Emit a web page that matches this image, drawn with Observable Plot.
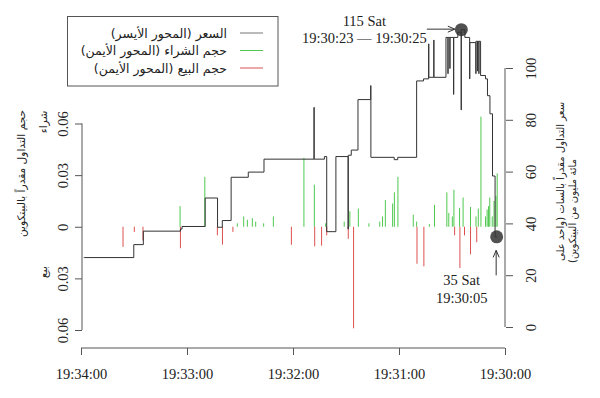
<!DOCTYPE html>
<html><head><meta charset="utf-8">
<script src="https://cdn.jsdelivr.net/npm/d3@7"></script>
<script src="https://cdn.jsdelivr.net/npm/@observablehq/plot@0.6"></script>
<style>
body{margin:0;background:#fff;}
#chart svg{display:block;}
</style></head><body><div id="chart"></div>
<script>
// ---- data (seconds after 19:30:00) ----
const priceSec = [5.1, 5.9, 7.35, 8.8, 10.2, 11.3, 14.1, 15.0, 15.1, 15.8, 15.9, 16.7, 16.8, 20.2, 20.3, 23.0, 25.0, 25.1, 27.0, 29.3, 29.4, 31.4, 31.5, 32.5, 32.6, 33.7, 40.5, 40.6, 43.4, 43.5, 46.4, 50.3, 61.0, 63.0, 76.2, 76.3, 83.5, 87.3, 89.0, 89.1, 96.0, 101.2, 102.5, 108.3, 108.4, 136.7, 145.6, 155.3, 160.3, 163.0, 170.0, 183.1, 184.0, 205.0, 210.4, 238.5];
const priceSat = [35, 58.5, 82.5, 89.5, 96, 97.3, 110.5, 98, 110.5, 99, 110.5, 98, 110, 96, 112, 115, 84, 114, 112, 90, 112, 100, 112, 98, 112, 96.6, 111, 96.6, 109.5, 96, 95.2, 65.7, 64.8, 65.7, 93.4, 88, 68.5, 66.5, 38, 66, 37, 66, 65, 85, 65, 60, 58, 41.3, 38.7, 50, 39, 38, 37.2, 32, 27, 27];

const buySec = [4.7, 5.4, 6.5, 7.5, 8.9, 9.6, 10.4, 11.3, 13.9, 15.4, 16.7, 19.8, 24.0, 26.0, 29.2, 30.1, 32.1, 33.2, 40.2, 43.1, 50.3, 52.2, 60.9, 62.9, 63.9, 68.0, 69.6, 71.2, 77.3, 83.3, 88.1, 91.3, 101.8, 108.2, 114.1, 131.4, 136.9, 141.4, 143.3, 146.1, 148.2, 151.8, 170.2, 184.2];
const buyBTC = [0.031, 0.018, 0.015, 0.006, 0.017, 0.012, 0.010, 0.006, 0.064, 0.0106, 0.006, 0.0115, 0.017, 0.011, 0.0215, 0.006, 0.008, 0.020, 0.0127, 0.0015, 0.003, 0.007, 0.029, 0.020, 0.0135, 0.0155, 0.006, 0.003, 0.002, 0.0106, 0.009, 0.003, 0.002, 0.0245, 0.040, 0.006, 0.002, 0.003, 0.005, 0.004, 0.006, 0.002, 0.029, 0.012];

const sellSec = [16.3, 19.8, 23.2, 25.8, 28.8, 46.2, 50.1, 86.0, 89.0, 101.2, 104.1, 108.0, 121.2, 154.3, 160.2, 163.1, 184.0, 205.2, 210.1, 216.5];
const sellBTC = [0.009, 0.016, 0.005, 0.024, 0.005, 0.023, 0.0215, 0.059, 0.007, 0.005, 0.011, 0.0114, 0.0105, 0.003, 0.0104, 0.005, 0.0125, 0.008, 0.003, 0.0117];

const xTickSec = [240, 180, 120, 60, 0];
const volTicks = [-0.06, -0.03, 0, 0.03, 0.06];
const priceTicks = [0, 20, 40, 60, 80, 100];

const markSec = [25, 5];
const markSat = [115, 35];
const markLabel1 = ["115 Sat", "35 Sat"];
const markLabel2 = ["19:30:23 — 19:30:25", "19:30:05"];

const legendLabels = ["السعر (المحور الأيسر)", "حجم الشراء (المحور الأيمن)", "حجم البيع (المحور الأيمن)"];
const leftTitle = "حجم التداول مقدراً بالبيتكوين";
const buyWord = "شراء";
const sellWord = "بيع";
const rightTitle = ["سعر التداول مقدراً بالسات (واحد على", "مائة مليون من البيتكوين)"];

// ---- styling / layout ----
const GREEN = "#4fc94f", RED = "#dd5050", LINE = "#333", AX = "#555", TXT = "#222";
const SERIF = "'Liberation Serif', serif";
const ARAB = "'DejaVu Sans', sans-serif";
const BASE = Date.UTC(2020, 0, 1, 19, 30, 0);
const T = s => new Date(BASE + s * 1000);

const volRange = [330, 123.5];
const volPx = d3.scaleLinear([-0.06, 0.06], volRange);
const pricePx = d3.scaleLinear([0, 100], [327, 68]);
const pv = p => volPx.invert(pricePx(p));       // price -> y-scale value
const priceOf = v => pricePx.invert(volPx(v));

const prices = priceSec.map((s, i) => ({t: T(s), p: priceSat[i]}));
const buys = buySec.map((s, i) => ({t: T(s), v: buyBTC[i]}));
const sells = sellSec.map((s, i) => ({t: T(s), v: sellBTC[i]}));
const marks = markSec.map((s, i) => ({t: T(s), p: markSat[i], l1: markLabel1[i], l2: markLabel2[i]}));

function deco(index, scales, values, dims) {
  const X = scales.x, Y = scales.y;
  const g = d3.create("svg:g");
  const ln = (x1, y1, x2, y2, c = AX, w = 1) => g.append("line").attr("x1", x1).attr("y1", y1).attr("x2", x2).attr("y2", y2).attr("stroke", c).attr("stroke-width", w);
  // axis lines
  const yb = dims.height - dims.marginBottom;
  ln(X(T(xTickSec[0])), yb, X(T(xTickSec[xTickSec.length - 1])), yb);
  const xl = dims.marginLeft, xr = dims.width - dims.marginRight;
  ln(xl, Y(volTicks[0]), xl, Y(volTicks[volTicks.length - 1]));
  ln(xr, Y(pv(priceTicks[0])), xr, Y(pv(priceTicks[priceTicks.length - 1])));
  // arrows
  const ax = X(marks[0].t), ay = Y(pv(marks[0].p));
  ln(ax - 34, ay, ax - 6, ay, "#333");
  ln(ax - 6, ay, ax - 13, ay - 3, "#333"); ln(ax - 6, ay, ax - 13, ay + 3, "#333");
  const bx = X(marks[1].t), by = Y(pv(marks[1].p));
  ln(bx, by + 39, bx, by + 14, "#333");
  ln(bx, by + 14, bx - 3, by + 21, "#333"); ln(bx, by + 14, bx + 3, by + 21, "#333");
  // legend
  g.append("rect").attr("x", 67.5).attr("y", 16.5).attr("width", 210.5).attr("height", 69.5)
    .attr("fill", "white").attr("stroke", AX);
  const cols = [LINE, GREEN, RED], rows = [33, 50.5, 68];
  legendLabels.forEach((lab, i) => {
    ln(240, rows[i], 263, rows[i], cols[i] === LINE ? "#777" : cols[i]);
    g.append("text").attr("x", 227).attr("y", rows[i]).attr("direction", "rtl")
      .attr("text-anchor", "start").attr("dominant-baseline", "central")
      .attr("font-family", ARAB).attr("font-size", 12.5).attr("fill", TXT).text(lab);
  });
  // axis titles
  const rt = (x, y, t, anchor = "middle", size = 10.6) => g.append("text").attr("transform", `translate(${x},${y}) rotate(-90)`)
    .attr("direction", "rtl").attr("text-anchor", anchor).attr("dominant-baseline", "central")
    .attr("font-family", ARAB).attr("font-size", size).attr("fill", TXT).text(t);
  rt(21, 173.5, leftTitle);
  rt(43, 122, buyWord);
  rt(42.5, 272, sellWord);
  rt(560, 261, rightTitle[0], "end", 10.1);
  rt(572, 263, rightTitle[1], "end", 10.1);
  return g.node();
}

const chart = Plot.plot({
  width: 600, height: 398,
  marginLeft: 82, marginRight: 95, marginTop: 20, marginBottom: 50,
  style: {fontFamily: SERIF, fontSize: "14.5px", color: TXT, background: "#fff"},
  x: {type: "utc", domain: [T(240), T(0)], range: [81, 505]},
  y: {domain: [-0.06, 0.06], range: volRange},
  marks: [
    Plot.ruleX(buys, {x: "t", y1: 0, y2: "v", stroke: GREEN, strokeWidth: 1}),
    Plot.ruleX(sells, {x: "t", y1: 0, y2: d => -d.v, stroke: RED, strokeWidth: 1}),
    Plot.line(prices, {x: "t", y: d => pv(d.p), curve: "step-after", stroke: LINE, strokeWidth: 1}),
    Plot.dot(marks, {x: "t", y: d => pv(d.p), r: 6.5, fill: "#333", fillOpacity: 0.85, stroke: "none"}),
    Plot.text([marks[0]], {x: "t", y: d => pv(d.p), text: "l1", dx: -97, dy: -8.5, fill: TXT}),
    Plot.text([marks[0]], {x: "t", y: d => pv(d.p), text: "l2", dx: -97, dy: 8.5, fill: TXT}),
    Plot.text([marks[1]], {x: "t", y: d => pv(d.p), text: "l1", dx: -35, dy: 44, fill: TXT}),
    Plot.text([marks[1]], {x: "t", y: d => pv(d.p), text: "l2", dx: -35, dy: 62, fill: TXT}),
    Plot.axisX({ticks: xTickSec.map(T), tickFormat: d3.utcFormat("%H:%M:%S"), tickSize: 7, tickPadding: 13, stroke: AX, fill: TXT, label: null}),
    Plot.axisY({anchor: "left", ticks: volTicks, tickFormat: d => d === 0 ? "0" : Math.abs(d).toFixed(2), tickSize: 7, tickRotate: -90, tickPadding: 8, stroke: AX, fill: TXT, label: null}),
    Plot.axisY({anchor: "right", ticks: priceTicks.map(pv), tickFormat: d => String(Math.round(priceOf(d))), tickSize: 7, tickRotate: -90, tickPadding: 13, lineAnchor: "top", stroke: AX, fill: TXT, label: null}),
    deco
  ]
});
document.getElementById("chart").append(chart);
</script></body></html>
